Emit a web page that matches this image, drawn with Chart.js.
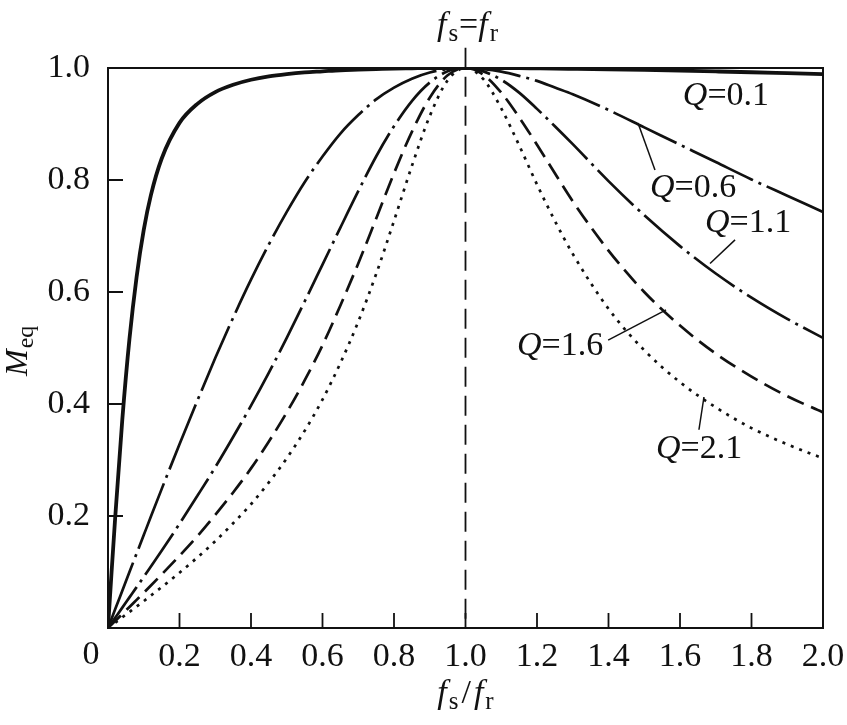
<!DOCTYPE html>
<html>
<head>
<meta charset="utf-8">
<script src="https://cdn.jsdelivr.net/npm/chart.js@4.4.0/dist/chart.umd.min.js"></script>
<style>
html, body { margin: 0; padding: 0; background: #fff; }
#wrap { width: 847px; height: 725px; }
</style>
</head>
<body>
<div id="wrap"><canvas id="chart" width="847" height="725"></canvas></div>
<script>
// fs/fr values where the curves were read
const xValues = [0, 0.01, 0.02, 0.04, 0.06, 0.08, 0.1, 0.12, 0.15, 0.2, 0.25, 0.3, 0.35, 0.4, 0.45, 0.5,
    0.55, 0.6, 0.65, 0.7, 0.75, 0.8, 0.85, 0.9, 0.95, 1.0, 1.05, 1.1, 1.15, 1.2, 1.25, 1.3,
    1.4, 1.5, 1.6, 1.7, 1.8, 1.9, 2.0]

// Meq for each Q
const q01 = [0, 0.10, 0.196, 0.372, 0.516, 0.627, 0.711, 0.773, 0.838, 0.902, 0.936, 0.957, 0.970, 0.979, 0.985, 0.989,
    0.992, 0.994, 0.996, 0.997, 0.998, 0.999, 0.9995, 1.0, 1.0, 1.0, 1.0, 0.9998, 0.9996, 0.9993, 0.999, 0.9986,
    0.9977, 0.9966, 0.9953, 0.9939, 0.9924, 0.9907, 0.989]
const q06 = [0, 0.0167, 0.0333, 0.0666, 0.0999, 0.133, 0.166, 0.199, 0.248, 0.328, 0.406, 0.482, 0.554, 0.622, 0.685, 0.743,
    0.796, 0.842, 0.883, 0.916, 0.944, 0.965, 0.981, 0.992, 0.998, 1.0, 0.998, 0.9935, 0.986, 0.977, 0.965, 0.953,
    0.925, 0.894, 0.863, 0.832, 0.801, 0.772, 0.743]
const q11 = [0, 0.0091, 0.0182, 0.0364, 0.0547, 0.0730, 0.0914, 0.110, 0.138, 0.186, 0.236, 0.287, 0.341, 0.397, 0.456, 0.518,
    0.583, 0.649, 0.715, 0.780, 0.842, 0.896, 0.941, 0.974, 0.994, 1.0, 0.994, 0.979, 0.956, 0.927, 0.896, 0.864,
    0.798, 0.737, 0.682, 0.633, 0.590, 0.552, 0.518]
const q16 = [0, 0.0063, 0.0125, 0.0250, 0.0376, 0.0503, 0.0630, 0.0759, 0.0955, 0.129, 0.164, 0.202, 0.242, 0.285, 0.333, 0.385,
    0.442, 0.505, 0.576, 0.651, 0.731, 0.812, 0.886, 0.947, 0.987, 1.0, 0.988, 0.956, 0.912, 0.863, 0.812, 0.762,
    0.674, 0.600, 0.540, 0.490, 0.449, 0.414, 0.385]
const q21 = [0, 0.0048, 0.0095, 0.0191, 0.0287, 0.0383, 0.0480, 0.0579, 0.0729, 0.0987, 0.126, 0.155, 0.187, 0.221, 0.260, 0.303,
    0.352, 0.408, 0.473, 0.547, 0.632, 0.727, 0.825, 0.914, 0.978, 1.0, 0.980, 0.928, 0.862, 0.792, 0.727, 0.668,
    0.570, 0.496, 0.439, 0.394, 0.357, 0.328, 0.303]

const qNames = ['0.1', '0.6', '1.1', '1.6', '2.1']

// Tick values
const xTicks = [0.2, 0.4, 0.6, 0.8, 1.0, 1.2, 1.4, 1.6, 1.8]
const yTicks = [0.2, 0.4, 0.6, 0.8]

// Label anchors (data units): text left/baseline, leader line ends
const labelPos = [
    { q: '0.1', x: 1.608, y: 0.934, line: null },
    { q: '0.6', x: 1.516, y: 0.770, line: [1.4825, 0.902, 1.530, 0.818] },
    { q: '1.1', x: 1.670, y: 0.707, line: [1.754, 0.693, 1.684, 0.651] },
    { q: '1.6', x: 1.144, y: 0.4875, line: [1.399, 0.514, 1.561, 0.568] },
    { q: '2.1', x: 1.533, y: 0.3036, line: [1.667, 0.4125, 1.653, 0.354] }
]

const SERIF = '"Liberation Serif", "DejaVu Serif", "Times New Roman", serif'
const INK = '#111'

function toPoints(ys) {
    return xValues.map((x, i) => ({ x: x, y: ys[i] }))
}

function fontOf(r) {
    return (r.italic ? 'italic ' : '') + (r.size || 32) + 'px ' + SERIF
}

// draw text made of runs (italic letters, subscripts)
function drawRich(ctx, runs, x, y, align) {
    let total = 0
    runs.forEach(r => {
        ctx.font = fontOf(r)
        r.w = ctx.measureText(r.t).width + (r.gap || 0)
        total += r.w
    })
    let cx = align === 'center' ? x - total / 2 : x
    ctx.textAlign = 'left'
    ctx.textBaseline = 'alphabetic'
    runs.forEach(r => {
        ctx.font = fontOf(r)
        ctx.fillText(r.t, cx, y + (r.dy || 0))
        cx += r.w
    })
}

const decorations = {
    id: 'decorations',
    afterDraw(chart) {
        const ctx = chart.ctx
        const xs = chart.scales.x
        const ys = chart.scales.y
        const area = chart.chartArea
        ctx.save()
        ctx.strokeStyle = INK
        ctx.fillStyle = INK

        // frame
        ctx.lineWidth = 2
        ctx.strokeRect(area.left, area.top, area.right - area.left, area.bottom - area.top)

        // inward ticks
        ctx.lineWidth = 1.8
        ctx.beginPath()
        xTicks.forEach(v => {
            const px = xs.getPixelForValue(v)
            ctx.moveTo(px, area.bottom)
            ctx.lineTo(px, area.bottom - 15)
        })
        yTicks.forEach(v => {
            const py = ys.getPixelForValue(v)
            ctx.moveTo(area.left, py)
            ctx.lineTo(area.left + 15, py)
        })
        ctx.stroke()

        // resonance line fs = fr
        const xr = xs.getPixelForValue(1.0)
        ctx.setLineDash([20, 9])
        ctx.lineWidth = 1.8
        ctx.beginPath()
        ctx.moveTo(xr, ys.getPixelForValue(1.036))
        ctx.lineTo(xr, area.bottom)
        ctx.stroke()
        ctx.setLineDash([])

        // title above the line
        drawRich(ctx, [
            { t: 'f', italic: true, size: 34, gap: 2 },
            { t: 's', size: 25, dy: 6, gap: 1 },
            { t: '=', size: 34 },
            { t: 'f', italic: true, size: 34, gap: 2 },
            { t: 'r', size: 25, dy: 6 }
        ], xr + 2, area.top - 33, 'center')

        // x axis title
        drawRich(ctx, [
            { t: 'f', italic: true, size: 34, gap: 2 },
            { t: 's', size: 25, dy: 6, gap: 3 },
            { t: '/', size: 34, gap: 3 },
            { t: 'f', italic: true, size: 34, gap: 2 },
            { t: 'r', size: 25, dy: 6 }
        ], xr, area.bottom + 75, 'center')

        // origin label
        ctx.font = '34px ' + SERIF
        ctx.textAlign = 'center'
        ctx.textBaseline = 'middle'
        ctx.fillText('0', area.left - 17, area.bottom + 27)

        // y axis title
        ctx.save()
        ctx.translate(27, ys.getPixelForValue(0.495))
        ctx.rotate(-Math.PI / 2)
        drawRich(ctx, [
            { t: 'M', italic: true, size: 32, gap: 1 },
            { t: 'eq', size: 24, dy: 6 }
        ], 0, 0, 'center')
        ctx.restore()

        // Q labels and leader lines
        ctx.lineWidth = 1.5
        labelPos.forEach(l => {
            drawRich(ctx, [
                { t: 'Q', italic: true, size: 34 },
                { t: '=' + l.q, size: 34 }
            ], xs.getPixelForValue(l.x), ys.getPixelForValue(l.y), 'left')
            if (l.line) {
                ctx.beginPath()
                ctx.moveTo(xs.getPixelForValue(l.line[0]), ys.getPixelForValue(l.line[1]))
                ctx.lineTo(xs.getPixelForValue(l.line[2]), ys.getPixelForValue(l.line[3]))
                ctx.stroke()
            }
        })
        ctx.restore()
    }
}

const series = [q01, q06, q11, q16, q21]
const lineWidths = [3.8, 2.7, 2.7, 2.7, 2.7]
const dashes = [[], [70, 6, 3, 6], [50, 6, 3, 6], [18, 8], [3, 6]]

const ctx = document.getElementById('chart').getContext('2d')

new Chart(ctx, {
    type: 'line',
    data: {
        datasets: series.map((s, i) => ({
            label: 'Q=' + qNames[i],
            data: toPoints(s),
            borderColor: INK,
            borderWidth: lineWidths[i],
            borderDash: dashes[i],
            pointRadius: 0,
            cubicInterpolationMode: 'monotone',
            fill: false
        }))
    },
    options: {
        responsive: false,
        animation: false,
        layout: { padding: { top: 68, right: 24, left: 0, bottom: 0 } },
        plugins: {
            legend: { display: false },
            tooltip: { enabled: false }
        },
        scales: {
            x: {
                type: 'linear',
                min: 0,
                max: 2,
                grid: { display: false },
                border: { display: false },
                ticks: {
                    stepSize: 0.2,
                    padding: 1,
                    color: INK,
                    font: { family: SERIF, size: 34 },
                    maxRotation: 0,
                    callback: v => (Math.abs(v) < 1e-9 ? '' : v.toFixed(1))
                },
                afterFit: s => { s.height = 97; s.paddingLeft = 0; s.paddingRight = 0 }
            },
            y: {
                min: 0,
                max: 1,
                grid: { display: false },
                border: { display: false },
                ticks: {
                    stepSize: 0.2,
                    padding: 10,
                    color: INK,
                    font: { family: SERIF, size: 34 },
                    callback: v => (Math.abs(v) < 1e-9 ? '' : v.toFixed(1))
                },
                afterFit: s => { s.width = 108; s.paddingTop = 0; s.paddingBottom = 0 }
            }
        }
    },
    plugins: [decorations]
})
</script>
</body>
</html>
